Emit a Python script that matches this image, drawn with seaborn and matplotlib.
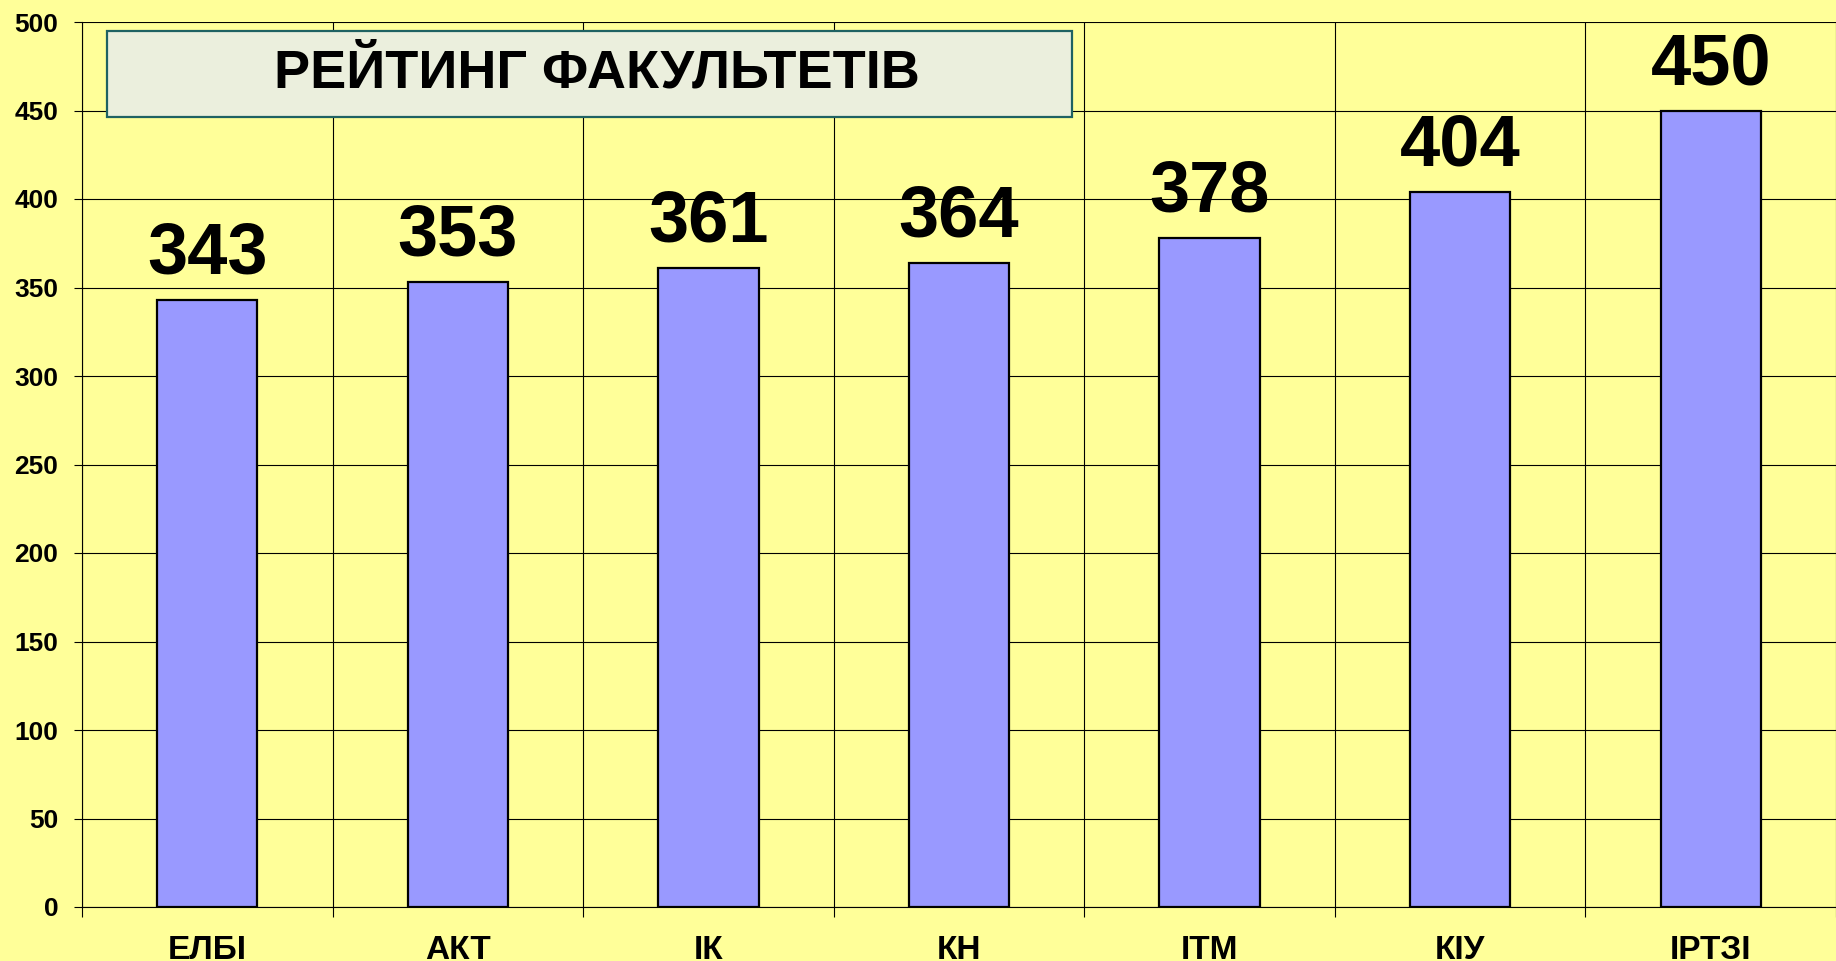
import matplotlib
matplotlib.use("Agg")
import numpy as np
import pandas as pd
import seaborn as sns
from matplotlib import pyplot as plt
from matplotlib.patches import Rectangle
from matplotlib.ticker import MultipleLocator

faculties = ["ЕЛБІ", "АКТ", "ІК", "КН", "ІТМ", "КІУ", "ІРТЗІ"]
scores = [343, 353, 361, 364, 378, 404, 450]
title = "РЕЙТИНГ ФАКУЛЬТЕТІВ"

df = pd.DataFrame({"faculty": faculties, "score": scores})

sns.set_style("white")
plt.rcParams["font.family"] = ["Liberation Sans", "DejaVu Sans"]
plt.rcParams["font.weight"] = "bold"
plt.rcParams["text.color"] = "black"
plt.rcParams["xtick.color"] = "black"
plt.rcParams["ytick.color"] = "black"

bg = "#FFFF99"
fig = plt.figure(figsize=(18.36, 9.61), dpi=100, facecolor=bg)
ax = fig.add_axes([82 / 1836, 54 / 961, 1754 / 1836, 885 / 961])
ax.set_facecolor(bg)

sns.barplot(data=df, x="faculty", y="score", color="#9999FF", saturation=1,
            width=0.4, edgecolor="black", linewidth=1.6, ax=ax, zorder=3)

ax.set_ylim(0, 500)
ax.set_xlim(-0.5, len(faculties) - 0.5)
ax.yaxis.set_major_locator(MultipleLocator(50))
ax.set_xticks(np.arange(len(faculties) + 1) - 0.5, minor=True)

ax.grid(axis="y", which="major", color="black", linewidth=0.8, zorder=1)
ax.grid(axis="x", which="minor", color="black", linewidth=0.8, zorder=1)
ax.grid(axis="x", which="major", visible=False)

for s in ["top", "right"]:
    ax.spines[s].set_visible(False)
for s in ["left", "bottom"]:
    ax.spines[s].set_color("black")
    ax.spines[s].set_linewidth(0.8)

ax.tick_params(axis="y", which="major", length=6, width=0.8, color="black",
               labelcolor="black", pad=11, labelsize=19, left=True)
ax.tick_params(axis="x", which="major", length=0, pad=20, labelsize=24,
               labelcolor="black")
ax.tick_params(axis="x", which="minor", length=7, width=0.8, color="black",
               bottom=True)
for lab in ax.get_xticklabels() + ax.get_yticklabels():
    lab.set_fontweight("bold")

ax.set_xlabel("")
ax.set_ylabel("")

for i, v in enumerate(scores):
    ax.annotate(str(v), (i, v), xytext=(0, 19), textcoords="offset points",
                ha="center", va="baseline", fontsize=52, fontweight="bold",
                color="black", zorder=5)

box = Rectangle((107 / 1836, (961 - 117) / 961), 965 / 1836, 86 / 961,
                transform=fig.transFigure, facecolor="#EBEFDD",
                edgecolor="#1F6262", linewidth=1.6, zorder=10)
fig.patches.append(box)
fig.text(597 / 1836, (961 - 74) / 961, title, ha="center", va="center",
         fontsize=39, fontweight="bold", color="black", zorder=11)

plt.savefig("out.png", dpi=100, facecolor=bg)
